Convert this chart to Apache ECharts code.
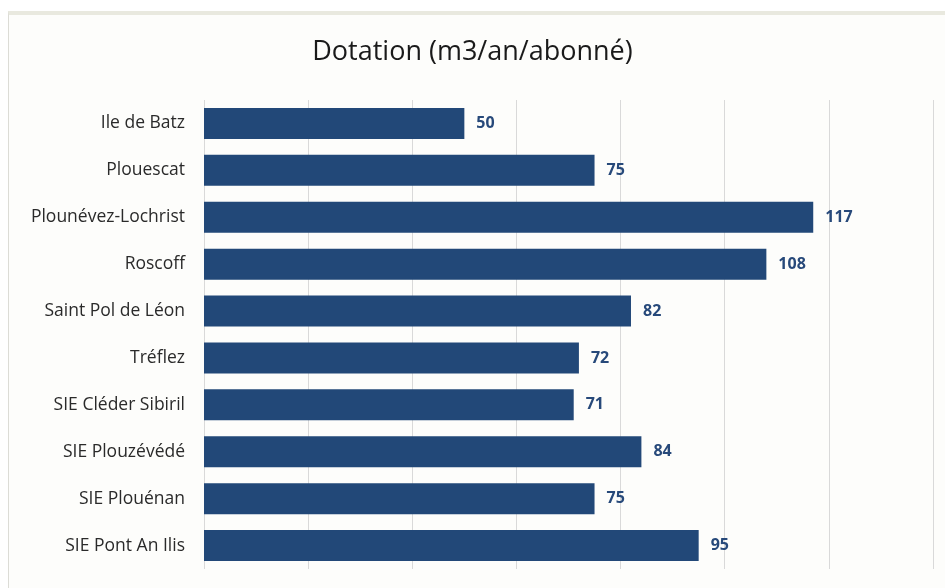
<!DOCTYPE html>
<html>
<head>
<meta charset="utf-8">
<script src="https://cdn.jsdelivr.net/npm/echarts@6/dist/echarts.min.js"></script>
<style>
  html, body { margin: 0; padding: 0; background: #ffffff; }
  #frame {
    position: absolute; left: 8px; top: 11px; width: 937px; height: 577px;
    background: #fdfdfb; border-top: 4px solid #e9e9df; border-left: 1px solid #dcdcd6;
    box-sizing: border-box;
  }
  #chart { position: absolute; left: 0; top: 0; width: 945px; height: 588px; }
</style>
</head>
<body>
<div id="frame"></div>
<div id="chart"></div>
<script>
const communes = ['Ile de Batz', 'Plouescat', 'Plounévez-Lochrist', 'Roscoff', 'Saint Pol de Léon', 'Tréflez', 'SIE Cléder Sibiril', 'SIE Plouzévédé', 'SIE Plouénan', 'SIE Pont An Ilis']
const dotation = [50, 75, 117, 108, 82, 72, 71, 84, 75, 95]

const myChart = echarts.init(document.getElementById('chart'))
let option = {
  backgroundColor: 'transparent',
  textStyle: { fontFamily: 'Open Sans' },
  title: {
    text: 'Dotation (m3/an/abonné)',
    left: 'center',
    top: 34,
    textStyle: { fontSize: 27, fontWeight: 'normal', color: '#1a1a1a', fontFamily: 'Open Sans' }
  },
  grid: { left: 204, right: 12, top: 100, bottom: 19 },
  xAxis: {
    type: 'value',
    min: 0,
    max: 140,
    interval: 20,
    axisLabel: { show: false },
    axisLine: { show: false },
    axisTick: { show: false },
    splitLine: { lineStyle: { color: '#d9d9d9', width: 1 } }
  },
  yAxis: {
    type: 'category',
    inverse: true,
    data: communes,
    axisLine: { show: false },
    axisTick: { show: false },
    axisLabel: { color: '#2a2a2a', fontSize: 17.5, margin: 19 }
  },
  series: [
    {
      type: 'bar',
      data: dotation,
      barCategoryGap: '34%',
      itemStyle: { color: '#224878' },
      label: {
        show: true,
        position: 'right',
        distance: 12,
        color: '#27497a',
        fontWeight: 'bold',
        fontSize: 16
      }
    }
  ]
}
myChart.setOption(option)
</script>
</body>
</html>
